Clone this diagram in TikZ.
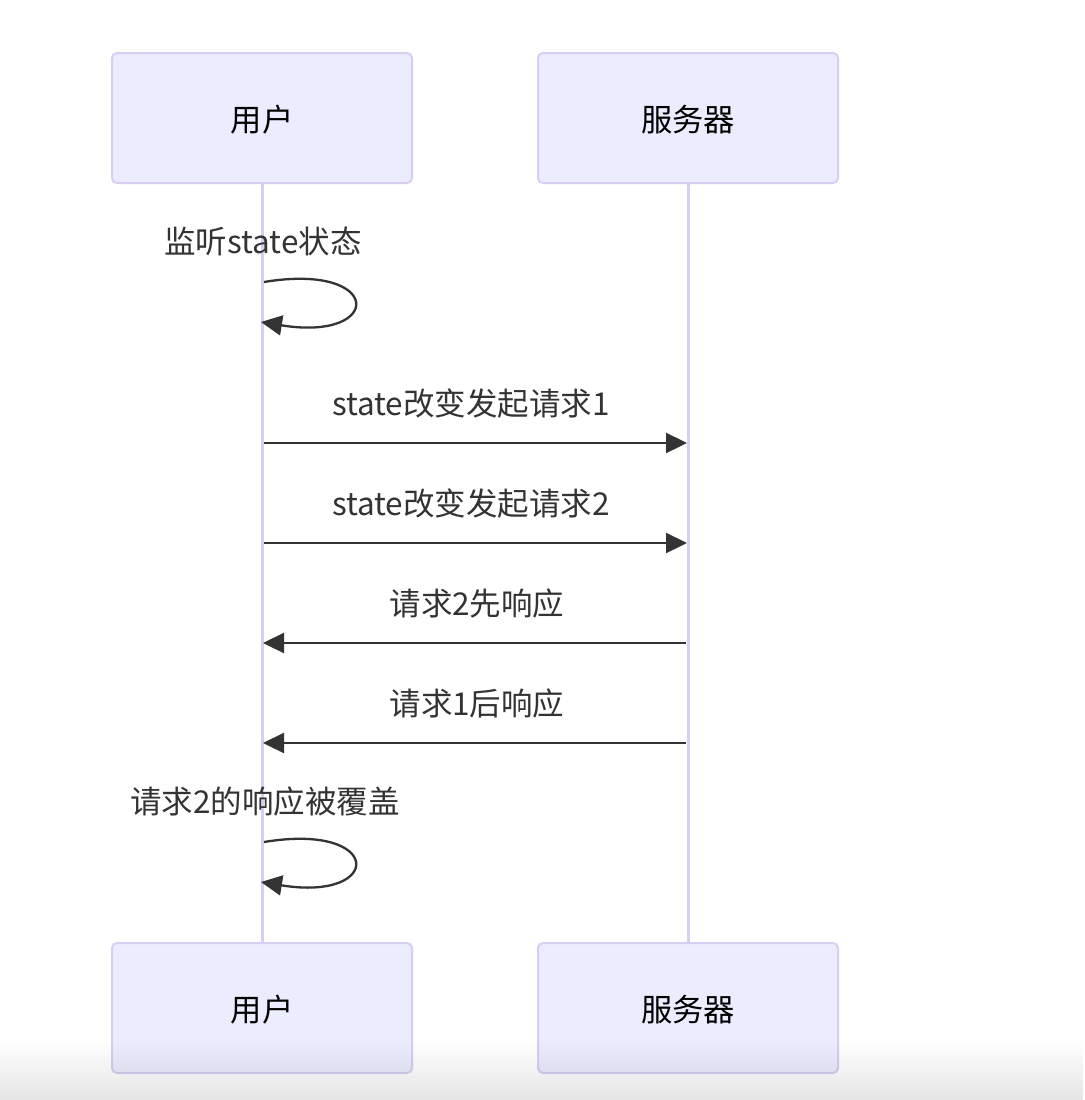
\documentclass[tikz,border=0pt]{standalone}
\usepackage{fontspec}
\setmainfont{Noto Sans CJK SC}
\usetikzlibrary{arrows.meta,fadings}
\definecolor{actfill}{HTML}{ECECFF}
\definecolor{actline}{HTML}{D8CEF2}
\definecolor{msg}{HTML}{333333}
\tikzset{
  actor/.style={draw=actline, line width=2pt, fill=actfill, rounded corners=5pt,
    minimum width=300pt, minimum height=130pt, inner sep=0pt},
  actortext/.style={font=\fontsize{31.3}{36}\selectfont, text=black, anchor=base, inner sep=0pt},
  msgtext/.style={font=\fontsize{31.5}{36}\selectfont, text=msg, anchor=base, inner sep=0pt},
  lifeline/.style={draw=actline, line width=3pt},
  msgline/.style={draw=msg, line width=2.3pt, -{Triangle[length=21pt,width=20pt]}},
}
\begin{document}
\begin{tikzpicture}[x=1pt,y=-1pt]
\useasboundingbox (0,0) rectangle (1084,1100);
\fill[white] (0,0) rectangle (1084,1100);
% actors
\node[actor] (ut) at (262,118) {};
\node[actor] (st) at (688,118) {};
\node[actor] (ub) at (262,1008) {};
\node[actor] (sb) at (688,1008) {};
% lifelines
\draw[lifeline] (ut.south) -- (ub.north);
\draw[lifeline] (st.south) -- (sb.north);
% actor texts
\node[actortext] (utt) at (262,131) {用户};
\node[actortext] (stt) at (688,131) {服务器};
\node[actortext] (ubt) at (262,1021) {用户};
\node[actortext] (sbt) at (688,1021) {服务器};
% coordinates on lifelines
\coordinate (l1s) at (264,282); \coordinate (l1e) at (261,322);
\coordinate (u1) at (264,443); \coordinate (s1) at (687,443);
\coordinate (u2) at (264,543); \coordinate (s2) at (687,543);
\coordinate (s3) at (686,643); \coordinate (u3) at (263,643);
\coordinate (s4) at (686,743); \coordinate (u4) at (263,743);
\coordinate (l2s) at (264,842); \coordinate (l2e) at (261,882);
% self loop 1
\node[msgtext] (t0) at (263,253) {监听state状态};
\draw[msgline] (l1s) .. controls (384,262) and (384,342) .. (l1e);
% messages
\node[msgtext] (t1) at (471,415) {state改变发起请求1};
\draw[msgline] (u1) -- (s1);
\node[msgtext] (t2) at (471,515) {state改变发起请求2};
\draw[msgline] (u2) -- (s2);
\node[msgtext] (t3) at (477,615) {请求2先响应};
\draw[msgline] (s3) -- (u3);
\node[msgtext] (t4) at (477,715) {请求1后响应};
\draw[msgline] (s4) -- (u4);
% self loop 2
\node[msgtext] (t5) at (265,813) {请求2的响应被覆盖};
\draw[msgline] (l2s) .. controls (384,822) and (384,902) .. (l2e);
% bottom shadow
\fill[black, fill opacity=0.1, path fading=north] (0,1040) rectangle (1084,1100);
\end{tikzpicture}
\end{document}
